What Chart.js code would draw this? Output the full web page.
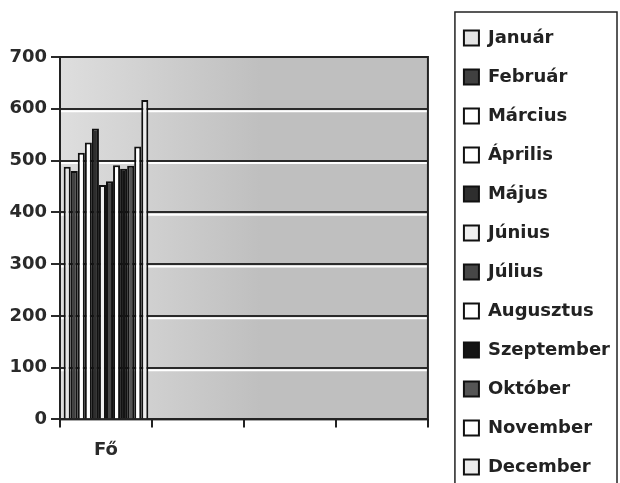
<!DOCTYPE html>
<html>
<head>
<meta charset="utf-8">
<script src="https://cdn.jsdelivr.net/npm/chart.js@4.4.0/dist/chart.umd.min.js"></script>
<style>
  html, body { margin: 0; padding: 0; background: #fff; overflow: hidden; }
</style>
</head>
<body>
<canvas id="grafico_mesi" width="620" height="500"></canvas>
<script>

// dati
var categorie = ["Fő", "", "", ""];
var mesi = ["Január", "Február", "Március", "Április", "Május", "Június",
            "Július", "Augusztus", "Szeptember", "Október", "November", "December"];
var valori = [488, 480, 515, 535, 562, 453, 460, 491, 484, 490, 527, 617];
var tickY = [0, 100, 200, 300, 400, 500, 600, 700];

// riempimento di ogni barra (stile, non dati)
var colori = ["#e4e4e4", "#404040", "#ffffff", "#ffffff", "#2e2e2e", "#eeeeee",
              "#474747", "#ffffff", "#141414", "#555555", "#ffffff", "#ececec"];

var fontBold = { family: "'DejaVu Sans', sans-serif", weight: "bold", size: 18 };

// sfondo grigio puntinato dell'area del grafico
var sfondo = {
  id: "sfondo",
  beforeDraw: function(chart) {
    var a = chart.chartArea;
    var ctx = chart.ctx;
    var grad = ctx.createLinearGradient(a.left, 0, a.left + 200, 0);
    grad.addColorStop(0, "#dedede");
    grad.addColorStop(1, "#bfbfbf");
    ctx.save();
    ctx.fillStyle = grad;
    ctx.fillRect(a.left, a.top, a.right - a.left, a.bottom - a.top);
    ctx.restore();
  },
  beforeDatasetsDraw: function(chart) {
    // riga chiara sotto ogni linea della griglia
    var a = chart.chartArea;
    var ctx = chart.ctx;
    var y = chart.scales.y;
    ctx.save();
    ctx.strokeStyle = "#ffffff";
    ctx.lineWidth = 2;
    tickY.forEach(function(v) {
      if (v == 0 || v == 700) return;
      var py = y.getPixelForValue(v) + 2.5;
      ctx.beginPath();
      ctx.moveTo(a.left, py);
      ctx.lineTo(a.right, py);
      ctx.stroke();
    });
    ctx.restore();
  },
  afterDraw: function(chart) {
    var a = chart.chartArea;
    var ctx = chart.ctx;
    var leg = chart.legend;
    ctx.save();
    ctx.strokeStyle = "#222";
    ctx.lineWidth = 2;
    ctx.strokeRect(a.left, a.top, a.right - a.left, a.bottom - a.top);
    // cornice della legenda
    ctx.lineWidth = 1.5;
    ctx.strokeRect(leg.left + 12, 12, 617 - (leg.left + 12), 520);
    ctx.restore();
  }
};

var datasets = mesi.map(function(mese, i) {
  return {
    label: mese,
    data: [valori[i]],
    backgroundColor: colori[i],
    borderColor: "#111",
    borderWidth: 2
  };
});

var ctx = document.getElementById("grafico_mesi");
var grafico = new Chart(ctx, {
  type: "bar",
  data: {
    labels: categorie,
    datasets: datasets
  },
  plugins: [sfondo],
  options: {
    responsive: false,
    animation: false,
    devicePixelRatio: 1,
    layout: { padding: 0 },
    datasets: {
      bar: { categoryPercentage: 0.92, barPercentage: 1.0 }
    },
    plugins: {
      tooltip: { enabled: false },
      title: {
        display: true,
        text: " ",
        fullSize: false,
        padding: 0,
        font: { size: 57, lineHeight: 1 }
      },
      legend: {
        position: "right",
        align: "start",
        maxWidth: 190,
        title: {
          display: true,
          text: " ",
          padding: 0,
          font: { size: 8, lineHeight: 1 }
        },
        labels: {
          boxWidth: 15,
          boxHeight: 15,
          padding: 21,
          color: "#222",
          font: fontBold
        }
      }
    },
    scales: {
      x: {
        offset: true,
        grid: {
          offset: true,
          drawOnChartArea: false,
          color: "#222",
          lineWidth: 2,
          tickLength: 8
        },
        border: { display: false },
        ticks: { color: "#2a2a2a", font: fontBold, padding: 12 },
        title: {
          display: true,
          text: " ",
          padding: { top: 0, bottom: 17 },
          font: { size: 10, lineHeight: 1 }
        }
      },
      y: {
        min: 0,
        max: 700,
        afterBuildTicks: function(scale) {
          scale.ticks = tickY.map(function(v) { return { value: v }; });
        },
        grid: { color: "#2a2a2a", lineWidth: 2, tickLength: 9 },
        border: { display: false },
        ticks: { color: "#2a2a2a", font: fontBold, padding: 4 },
        afterFit: function(scale) { scale.width = 60; }
      },
      destra: {
        position: "right",
        grid: { display: false },
        border: { display: false },
        ticks: { display: false },
        afterFit: function(scale) { scale.width = 15; }
      }
    }
  }
});

</script>
</body>
</html>
